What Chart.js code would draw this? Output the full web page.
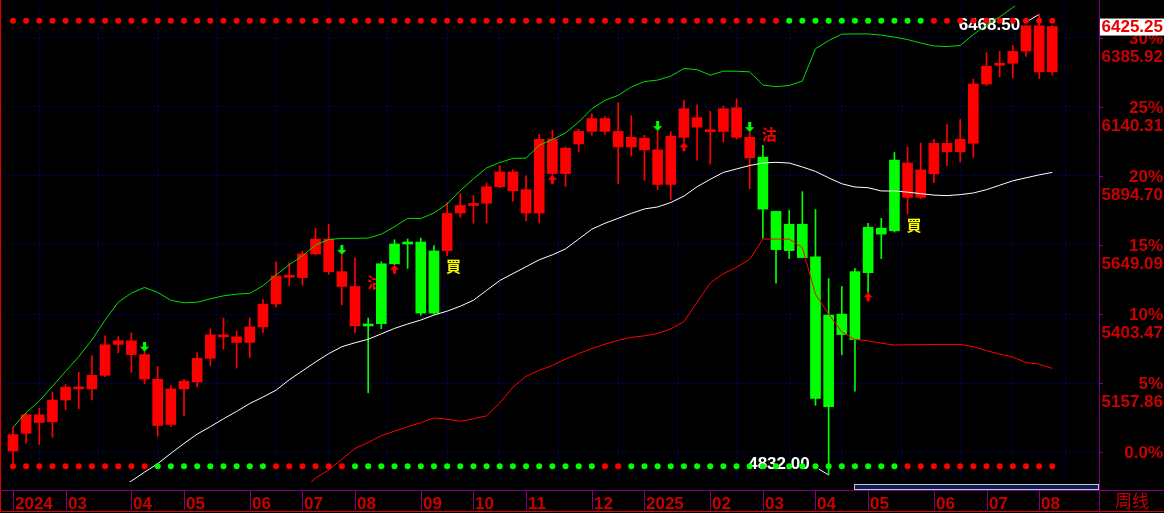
<!DOCTYPE html>
<html>
<head>
<meta charset="utf-8">
<title>周线</title>
<script src="https://cdn.jsdelivr.net/npm/chart.js@4.4.1/dist/chart.umd.min.js"></script>
<style>
  html, body { margin: 0; padding: 0; background: #000; }
  canvas { display: block; }
</style>
</head>
<body>
<canvas id="chart" width="1164" height="513"></canvas>
<script>
// Weekly bars, Feb 2024 - Aug 2025 (one row = 10 weeks)
const opens = [
  4916.8, 4980.0, 5045.6, 5021.0, 5098.2, 5144.9, 5137.9, 5185.9, 5295.8, 5308.7,
  5259.6, 5171.9, 5011.5, 5137.9, 5162.4, 5246.6, 5329.8, 5322.8, 5302.8, 5357.9,
  5439.6, 5541.4, 5533.3, 5617.5, 5670.1, 5554.4, 5501.7, 5361.4, 5369.4, 5582.4,
  5652.6, 5659.6, 5407.0, 5629.1, 5762.4, 5789.4, 5797.5, 5856.1, 5908.7, 5845.6,
  5762.4, 6025.6, 5902.8, 6008.0, 6052.6, 6098.2, 6052.6, 5997.5, 6028.0, 5987.0,
  5864.2, 6031.5, 6101.7, 6052.6, 6052.6, 6136.8, 6031.5, 5961.4, 5768.4, 5629.1,
  5722.8, 5607.0, 5074.7, 5403.5, 5313.3, 5550.8, 5708.7, 5699.3, 5940.3, 5818.6,
  5901.7, 6010.5, 5980.0, 6010.5, 6221.0, 6287.7, 6294.7, 6337.9, 6428.0, 6264.2
];
const highs = [
  5001.0, 5051.5, 5069.1, 5126.3, 5153.3, 5196.5, 5256.1, 5326.3, 5322.8, 5336.8,
  5270.1, 5217.5, 5150.9, 5171.9, 5266.6, 5350.8, 5389.4, 5343.8, 5389.4, 5455.1,
  5589.4, 5585.9, 5627.0, 5708.7, 5722.8, 5614.0, 5603.5, 5389.4, 5589.4, 5667.7,
  5670.1, 5673.6, 5646.6, 5800.0, 5831.5, 5824.5, 5870.1, 5930.8, 5915.8, 5894.7,
  6042.1, 6057.2, 5997.5, 6060.7, 6114.7, 6105.2, 6155.4, 6108.7, 6038.6, 6053.7,
  6051.5, 6162.4, 6147.3, 6123.8, 6142.8, 6168.4, 6050.0, 6003.5, 5770.0, 5771.9,
  5838.6, 5775.4, 5529.8, 5501.7, 5564.9, 5726.3, 5743.8, 5977.9, 5997.5, 6010.5,
  6024.5, 6077.2, 6094.7, 6238.6, 6332.3, 6336.8, 6357.9, 6428.0, 6468.5, 6430.0
];
const lows = [
  4874.7, 4944.9, 4940.3, 4965.9, 5063.1, 5067.7, 5098.2, 5181.0, 5266.6, 5196.5,
  5155.4, 4969.4, 5003.5, 5042.1, 5144.9, 5221.0, 5278.2, 5211.5, 5249.1, 5337.9,
  5428.0, 5505.2, 5506.3, 5614.0, 5544.9, 5436.1, 5337.9, 5123.8, 5351.9, 5578.9,
  5565.9, 5398.9, 5403.0, 5611.5, 5747.3, 5726.3, 5727.3, 5852.6, 5804.5, 5734.4,
  5727.3, 5898.2, 5857.2, 5980.0, 6039.6, 6042.1, 5866.6, 5965.9, 5878.2, 5845.6,
  5810.5, 6014.0, 5950.8, 5936.8, 6015.1, 6024.5, 5849.1, 5673.6, 5513.3, 5601.0,
  5604.5, 5079.6, 4832.0, 5258.6, 5129.8, 5480.7, 5601.0, 5695.0, 5758.9, 5814.0,
  5870.1, 5930.8, 5944.9, 5960.3, 6215.0, 6246.6, 6243.1, 6319.3, 6241.0, 6252.6
];
const closes = [
  4975.4, 5045.6, 5018.6, 5098.2, 5143.8, 5137.9, 5185.9, 5294.7, 5308.7, 5259.6,
  5173.0, 5008.0, 5137.9, 5164.9, 5246.6, 5329.8, 5322.8, 5302.8, 5357.9, 5438.6,
  5539.3, 5534.4, 5617.5, 5670.1, 5554.4, 5501.7, 5361.4, 5368.4, 5582.4, 5652.6,
  5659.6, 5407.0, 5628.0, 5761.4, 5789.4, 5796.5, 5856.1, 5908.7, 5842.1, 5762.4,
  6024.5, 5902.8, 5993.0, 6052.6, 6098.2, 6052.6, 5997.5, 6031.5, 5987.0, 5864.2,
  6035.1, 6133.3, 6067.7, 6051.5, 6133.3, 6031.5, 5958.9, 5776.5, 5632.6, 5722.8,
  5604.5, 5104.2, 5400.0, 5330.8, 5554.4, 5712.2, 5687.7, 5950.8, 5818.6, 5915.8,
  6010.5, 5980.0, 6024.5, 6221.0, 6284.2, 6294.7, 6336.8, 6428.0, 6264.2, 6425.25
];

// Signal state that colours each bar: 1 = red (after 買), 0 = green (after 沽)
const barState = [
  1, 1, 1, 1, 1, 1, 1, 1, 1, 1,
  1, 1, 1, 1, 1, 1, 1, 1, 1, 1,
  1, 1, 1, 1, 1, 1, 1, 0, 0, 0,
  0, 0, 0, 1, 1, 1, 1, 1, 1, 1,
  1, 1, 1, 1, 1, 1, 1, 1, 1, 1,
  1, 1, 1, 1, 1, 1, 1, 0, 0, 0,
  0, 0, 0, 0, 0, 0, 0, 0, 1, 1,
  1, 1, 1, 1, 1, 1, 1, 1, 1, 1
];

// Channel lines
const upperBand = [
  5001.0, 5053.7, 5094.7, 5147.3, 5200.0, 5252.6, 5312.2, 5382.4, 5445.6, 5478.2,
  5498.2, 5480.7, 5452.6, 5443.8, 5445.6, 5457.9, 5468.4, 5474.4, 5477.2, 5504.2,
  5542.8, 5578.9, 5610.5, 5649.1, 5668.4, 5672.6, 5672.6, 5673.6, 5687.7, 5714.0,
  5743.8, 5742.8, 5763.1, 5794.7, 5842.1, 5884.2, 5922.8, 5942.1, 5956.8, 5957.9,
  6003.5, 6023.5, 6047.3, 6085.9, 6133.3, 6163.1, 6180.7, 6210.5, 6229.8, 6235.0,
  6249.1, 6276.1, 6271.9, 6252.6, 6266.6, 6266.6, 6264.2, 6217.5, 6211.5, 6215.8,
  6231.5, 6346.3, 6375.4, 6398.2, 6398.9, 6398.9, 6394.7, 6387.7, 6378.9, 6366.6,
  6356.1, 6354.3, 6357.9, 6396.5, 6431.5, 6459.6, 6492.9, 6526.3, 6550.8, 6568.4
];
const midLine = [
  null, null, null, null, null, null, null, null, 4778.9, 4810.5,
  4842.1, 4871.9, 4908.7, 4943.8, 4977.2, 5003.5, 5031.5, 5057.9, 5085.9, 5108.7,
  5133.3, 5170.1, 5201.7, 5233.3, 5263.1, 5287.7, 5301.7, 5314.0, 5333.3, 5352.6,
  5368.4, 5382.4, 5400.0, 5414.0, 5431.5, 5452.6, 5487.7, 5522.8, 5547.3, 5571.9,
  5596.5, 5614.0, 5635.1, 5670.1, 5705.2, 5726.3, 5743.8, 5761.4, 5777.2, 5784.2,
  5800.0, 5822.8, 5856.1, 5882.4, 5907.0, 5919.3, 5931.5, 5940.3, 5942.8, 5940.3,
  5926.3, 5910.5, 5887.7, 5866.6, 5855.1, 5852.6, 5841.0, 5841.0, 5836.8, 5831.5,
  5826.3, 5824.5, 5828.0, 5834.0, 5845.6, 5861.4, 5877.2, 5887.7, 5898.2, 5907.0
];
const lowerBand = [
  null, null, null, null, null, null, null, null, null, null,
  null, null, null, null, null, null, null, null, null, null,
  null, null, 4778.9, 4821.0, 4850.1, 4887.7, 4926.3, 4947.3, 4971.9, 4987.7,
  5003.5, 5017.5, 5035.1, 5029.8, 5022.8, 5031.5, 5042.1, 5087.7, 5143.8, 5182.4,
  5203.5, 5221.0, 5243.8, 5263.1, 5281.7, 5296.5, 5310.5, 5321.0, 5326.3, 5334.4,
  5350.8, 5377.2, 5445.6, 5514.0, 5547.3, 5570.1, 5598.2, 5670.1, 5670.1, 5670.1,
  5640.3, 5473.6, 5403.5, 5340.3, 5313.3, 5308.7, 5300.0, 5293.6, 5294.7, 5294.7,
  5295.8, 5295.8, 5295.8, 5287.7, 5273.6, 5261.4, 5250.8, 5231.5, 5225.6, 5210.5
];

// Indicator dot rows along top and bottom: 1 = red, 0 = green
const topDots = [
  1, 1, 1, 1, 1, 1, 1, 1, 1, 1,
  1, 1, 1, 1, 1, 1, 1, 1, 1, 1,
  1, 1, 1, 1, 1, 1, 1, 1, 1, 1,
  1, 1, 1, 1, 1, 1, 1, 1, 1, 1,
  1, 1, 1, 1, 1, 1, 1, 1, 1, 1,
  1, 1, 1, 1, 1, 1, 1, 1, 1, 0,
  0, 0, 0, 0, 0, 0, 0, 0, 0, 0,
  1, 1, 1, 1, 1, 1, 1, 1, 1, 1
];
const bottomDots = [
  1, 1, 1, 1, 1, 1, 1, 1, 1, 1,
  1, 0, 0, 0, 0, 0, 0, 0, 0, 0,
  1, 1, 1, 1, 1, 1, 0, 0, 0, 0,
  0, 0, 0, 0, 0, 0, 0, 0, 0, 0,
  0, 0, 0, 0, 0, 1, 1, 0, 0, 0,
  0, 0, 0, 0, 0, 0, 0, 0, 0, 0,
  0, 0, 0, 0, 0, 0, 0, 0, 1, 1,
  1, 1, 1, 1, 1, 1, 1, 1, 1, 1
];

// Arrows and buy/sell marks (bar index; text marks carry their price level)
const downArrows = [10, 25, 49, 56];
const upArrows = [29, 41, 51, 65];
const signalIdx = [27, 33, 57, 68];
const signalText = ['沽', '買', '沽', '買'];
const signalPrice = [5515.8, 5571.9, 6043.8, 5717.5];

// Axis ticks
const monthTicks = [0, 4, 9, 13, 18, 22, 26, 31, 35, 39, 44, 48, 53, 57, 61, 65, 70, 74, 78];
const monthLabels = ['2024', '03', '04', '05', '06', '07', '08', '09', '10', '11', '12',
  '2025', '02', '03', '04', '05', '06', '07', '08'];
const yTickValues = [4912.25, 5157.86, 5403.47, 5649.09, 5894.70, 6140.31, 6385.92];
const yTickPct = ['0.0%', '5%', '10%', '15%', '20%', '25%', '30%'];
const yTickPrice = ['', '5157.86', '5403.47', '5649.09', '5894.70', '6140.31', '6385.92'];

const RED = '#ff0000';
const GREEN = '#00ff00';
const AXIS_RED = '#c80000';
const PURPLE = '#800080';
const GRID_BLUE = '#0000d0';
const NUM_FONT = 'bold 17px "Liberation Sans", Arial, sans-serif';
const TOP_ROW = 0.969;
const BOTTOM_ROW = 0.033;

const idx = opens.map((_, i) => i);
const barColors = barState.map(s => (s ? RED : GREEN));
const toPoints = arr => arr.map((v, i) => ({ x: i, y: v })).filter(p => p.y !== null);

// small arrow sprite; the arrow sits in one half so its tip lands on the point
function makeArrow(up, color) {
  const c = document.createElement('canvas');
  c.width = 9;
  c.height = 20;
  const g = c.getContext('2d');
  g.fillStyle = color;
  g.beginPath();
  if (up) {
    g.moveTo(4.5, 10); g.lineTo(9, 15); g.lineTo(0, 15);
    g.closePath(); g.fill();
    g.fillRect(3, 15, 3, 4);
  } else {
    g.fillRect(3, 0, 3, 5);
    g.moveTo(0, 5); g.lineTo(9, 5); g.lineTo(4.5, 10);
    g.closePath(); g.fill();
  }
  return c;
}

function extremeLabel(ctx, px, py, text, dir) {
  ctx.strokeStyle = '#ffffff';
  ctx.lineWidth = 1;
  ctx.beginPath();
  ctx.moveTo(px, py);
  ctx.lineTo(px - 10, py + 6 * dir);
  ctx.stroke();
  ctx.fillStyle = '#ffffff';
  ctx.font = NUM_FONT;
  ctx.textAlign = 'right';
  ctx.textBaseline = 'middle';
  ctx.fillText(text, px - 19, py + 11 * dir);
}

const decor = {
  id: 'decor',
  beforeDraw(chart) {
    const { ctx, width, height } = chart;
    ctx.save();
    ctx.fillStyle = '#000';
    ctx.fillRect(0, 0, width, height);
    ctx.restore();
  },
  beforeDatasetsDraw(chart) {
    const { ctx, scales: { x, y } } = chart;
    ctx.save();
    ctx.font = 'bold 15px "Noto Sans CJK TC", sans-serif';
    ctx.textAlign = 'left';
    ctx.textBaseline = 'middle';
    signalIdx.forEach((i, k) => {
      ctx.fillStyle = signalText[k] === '買' ? '#ffff00' : RED;
      ctx.fillText(signalText[k], x.getPixelForValue(i) - 1, y.getPixelForValue(signalPrice[k]));
    });
    const hi = Math.max(...highs);
    const lo = Math.min(...lows);
    const hiIdx = highs.indexOf(hi);
    const loIdx = lows.indexOf(lo);
    extremeLabel(ctx, x.getPixelForValue(hiIdx), y.getPixelForValue(hi), hi.toFixed(2), 1);
    extremeLabel(ctx, x.getPixelForValue(loIdx), y.getPixelForValue(lo), lo.toFixed(2), -1);
    ctx.restore();
  },
  afterDraw(chart) {
    const { ctx, width, height, chartArea, scales: { x, y } } = chart;
    const right = chartArea.right;
    ctx.save();

    // scroll bar under the plot
    ctx.fillStyle = '#c8c8c8';
    ctx.fillRect(854, chartArea.bottom + 2, right - 854, 6);
    ctx.fillStyle = '#0c1e5a';
    ctx.fillRect(855, chartArea.bottom + 3, right - 856, 4);

    // frame
    ctx.fillStyle = '#e00000';
    ctx.fillRect(0, 0, 1, 512);
    ctx.fillRect(0, 511, width, 1);
    ctx.fillStyle = PURPLE;
    ctx.fillRect(0, 490, width, 1);
    ctx.fillRect(right, 0, 1, height);

    // month labels
    ctx.font = NUM_FONT;
    ctx.textAlign = 'left';
    ctx.textBaseline = 'alphabetic';
    monthTicks.forEach((v, k) => {
      const px = Math.round(x.getPixelForValue(v));
      ctx.fillStyle = PURPLE;
      ctx.fillRect(px, 491, 1, 19);
      ctx.fillStyle = AXIS_RED;
      ctx.fillText(monthLabels[k], px + 2, 509);
    });
    ctx.font = '17px "Noto Sans CJK SC", sans-serif';
    ctx.textBaseline = 'middle';
    ctx.fillText('周线', 1115, 501);

    // right axis: percent on the line, price underneath
    ctx.textAlign = 'right';
    ctx.font = NUM_FONT;
    yTickValues.forEach((v, k) => {
      const py = Math.round(y.getPixelForValue(v));
      ctx.fillStyle = PURPLE;
      ctx.fillRect(right, py, 4, 1);
      ctx.fillStyle = AXIS_RED;
      ctx.fillText(yTickPct[k], width - 1, py + 1);
      if (yTickPrice[k]) ctx.fillText(yTickPrice[k], width - 1, py + 19);
    });

    // last price box
    const last = closes[closes.length - 1];
    const ly = y.getPixelForValue(last);
    ctx.fillStyle = '#ffffff';
    ctx.fillRect(right + 1, ly - 8, width - right - 1, 17);
    ctx.fillStyle = '#e80000';
    ctx.fillText(last.toFixed(2), width - 1, ly + 1);

    ctx.restore();
  }
};

const ctx = document.getElementById('chart').getContext('2d');

new Chart(ctx, {
  type: 'bar',
  data: {
    datasets: [
      {
        label: 'wick',
        data: idx.map(i => ({ x: i, y: [lows[i], highs[i]] })),
        backgroundColor: barColors,
        barThickness: 1,
        grouped: false,
        order: 6,
      },
      {
        label: 'body',
        data: idx.map(i => ({ x: i, y: [opens[i], closes[i]] })),
        backgroundColor: barColors,
        barThickness: 10,
        minBarLength: 2,
        grouped: false,
        order: 5,
      },
      {
        type: 'line',
        label: 'upper',
        data: toPoints(upperBand),
        borderColor: '#00e000',
        borderWidth: 1,
        pointRadius: 0,
        order: 4,
      },
      {
        type: 'line',
        label: 'mid',
        data: toPoints(midLine),
        borderColor: '#ffffff',
        borderWidth: 1,
        pointRadius: 0,
        order: 3,
      },
      {
        type: 'line',
        label: 'lower',
        data: toPoints(lowerBand),
        borderColor: RED,
        borderWidth: 1,
        pointRadius: 0,
        order: 2,
      },
      {
        type: 'line',
        label: 'down arrows',
        showLine: false,
        data: downArrows.map(i => ({ x: i, y: highs[i] })),
        pointStyle: makeArrow(false, GREEN),
        pointRadius: 5,
        order: 1,
      },
      {
        type: 'line',
        label: 'up arrows',
        showLine: false,
        data: upArrows.map(i => ({ x: i, y: lows[i] })),
        pointStyle: makeArrow(true, RED),
        pointRadius: 5,
        order: 1,
      },
      {
        type: 'line',
        label: 'top dots',
        showLine: false,
        yAxisID: 'yDot',
        data: idx.map(i => ({ x: i, y: TOP_ROW })),
        pointBackgroundColor: topDots.map(s => (s ? RED : GREEN)),
        pointBorderWidth: 0,
        pointRadius: 3,
        order: 0,
      },
      {
        type: 'line',
        label: 'bottom dots',
        showLine: false,
        yAxisID: 'yDot',
        data: idx.map(i => ({ x: i, y: BOTTOM_ROW })),
        pointBackgroundColor: bottomDots.map(s => (s ? RED : GREEN)),
        pointBorderWidth: 0,
        pointRadius: 3,
        order: 0,
      },
    ],
  },
  options: {
    responsive: false,
    animation: false,
    devicePixelRatio: 1,
    layout: { padding: 0 },
    plugins: {
      legend: { display: false },
      tooltip: { enabled: false },
    },
    scales: {
      x: {
        type: 'linear',
        min: -0.53,
        max: 82.55,
        offset: false,
        afterBuildTicks: axis => { axis.ticks = monthTicks.map(v => ({ value: v })); },
        afterFit: axis => { axis.height = 31; },
        ticks: { display: false },
        grid: { color: GRID_BLUE, lineWidth: 1, drawTicks: false },
        border: { display: false, dash: [1, 3] },
      },
      y: {
        position: 'right',
        min: 4807.0,
        max: 6498.2,
        afterBuildTicks: axis => { axis.ticks = yTickValues.map(v => ({ value: v })); },
        afterFit: axis => { axis.width = 65; axis.paddingTop = 0; axis.paddingBottom = 0; },
        ticks: { display: false },
        grid: { color: GRID_BLUE, lineWidth: 1, drawTicks: false },
        border: { display: false, dash: [1, 3] },
      },
      yDot: {
        display: false,
        min: 0,
        max: 1,
      },
    },
  },
  plugins: [decor],
});
</script>
</body>
</html>
